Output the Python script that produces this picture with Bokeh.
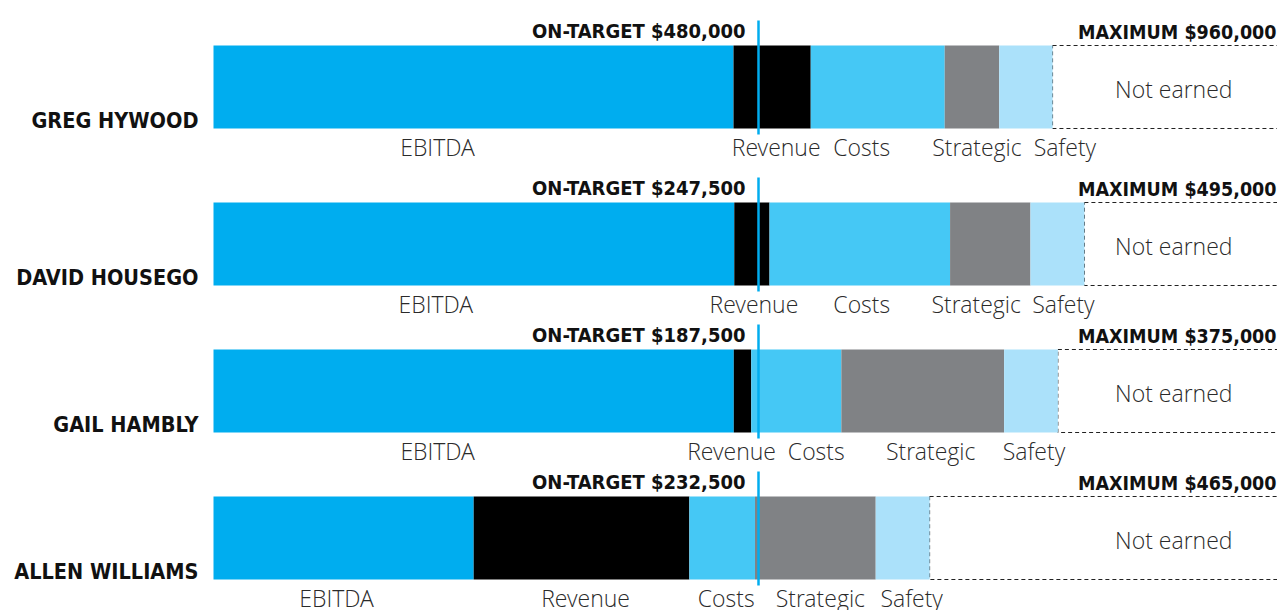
from bokeh.plotting import figure
from bokeh.models import Range1d, ColumnDataSource
from bokeh.core.properties import value
from bokeh.embed import file_html
from bokeh.resources import INLINE

# ---------------- data ----------------
names = ["GREG HYWOOD", "DAVID HOUSEGO", "GAIL HAMBLY", "ALLEN WILLIAMS"]
on_target = [480000, 247500, 187500, 232500]
maximum = [960000, 495000, 375000, 465000]
components = ["EBITDA", "Revenue", "Costs", "Strategic", "Safety"]
ebitda = [458000, 236500, 179000, 111000]
revenue = [68000, 16000, 6000, 92000]
costs = [118000, 82000, 31000, 28000]
strategic = [48000, 36500, 56000, 51500]
safety = [47000, 24500, 18500, 23000]
not_earned_label = "Not earned"

# ---------------- style / layout ----------------
colors = ["#00ADEF", "#000000", "#45C8F5", "#808285", "#ABE1FA"]
W, H = 1277, 610
ORIGIN_PX = 213          # pixel position of a bar's start inside the figure
PX_PER_MAX = 1090        # pixels for 100% of a person's maximum
row_top = [45, 202, 349, 496]
bar_h = 83
label_dx = [[-36, 4, -16, 5, 39],
            [-38, 2, 2, -14, 6],
            [-36, -11, 20, 8, 3],
            [-7, 4, 4, 5, 9]]
not_earned_pos = 0.881   # fraction of the maximum
bold_font = value("DejaVu Sans Condensed")
light_font = value("'Open Sans Light', 'Open Sans'")

p = figure(width=W, height=H, output_backend="svg", toolbar_location=None,
           x_range=Range1d(-ORIGIN_PX / PX_PER_MAX, (W - ORIGIN_PX) / PX_PER_MAX),
           y_range=Range1d(H, 0), x_axis_type=None, y_axis_type=None,
           min_border=0, min_border_left=0, min_border_right=0,
           min_border_top=0, min_border_bottom=0)
p.outline_line_color = None
p.xgrid.visible = False
p.ygrid.visible = False
p.background_fill_color = "white"
p.border_fill_color = "white"

series = [ebitda, revenue, costs, strategic, safety]

seg = dict(left=[], right=[], top=[], bottom=[], color=[])
lab = dict(x=[], y=[], text=[])
box = dict(left=[], right=[], top=[], bottom=[])
for i in range(len(names)):
    mx = maximum[i]
    cum = 0.0
    for j, s in enumerate(series):
        l = cum / mx
        cum += s[i]
        r = cum / mx
        seg["left"].append(l)
        seg["right"].append(r)
        seg["top"].append(row_top[i])
        seg["bottom"].append(row_top[i] + bar_h)
        seg["color"].append(colors[j])
        lab["x"].append((l + r) / 2 + label_dx[i][j] / PX_PER_MAX)
        lab["y"].append(row_top[i] + bar_h + 18)
        lab["text"].append(components[j])
    box["left"].append(cum / mx)
    box["right"].append(1.0)
    box["top"].append(row_top[i])
    box["bottom"].append(row_top[i] + bar_h)

# dashed "not earned" box
p.quad(left="left", right="right", top="top", bottom="bottom",
       source=ColumnDataSource(box), fill_color=None, line_color="#222222",
       line_width=1, line_dash="4 3")

# stacked segments
p.quad(left="left", right="right", top="top", bottom="bottom",
       source=ColumnDataSource(seg), fill_color="color", line_color=None)

# on-target lines
ot_x = [t / m for t, m in zip(on_target, maximum)]
p.segment(x0=ot_x, x1=ot_x, y0=[t - 25 for t in row_top],
          y1=[t + bar_h + 6 for t in row_top], line_color="#00ADEF", line_width=2.5)

# segment labels
p.text(x="x", y="y", text="text", source=ColumnDataSource(lab),
       text_font=light_font, text_font_size="23px", text_color="#2a2a2a",
       text_align="center", text_baseline="alphabetic")

# not earned labels
p.text(x=[not_earned_pos] * len(names), y=[t + bar_h / 2 + 1.5 for t in row_top],
       text=[not_earned_label] * len(names), text_font=light_font,
       text_font_size="23px", text_color="#2a2a2a", text_align="center",
       text_baseline="alphabetic")

# name labels
p.text(x=[0] * len(names), y=[t + bar_h - 8 for t in row_top], text=names,
       x_offset=-15, text_font=bold_font, text_font_style="bold",
       text_font_size="21.5px", text_color="#111111", text_align="right",
       text_baseline="alphabetic")

# on-target labels
p.text(x=ot_x, y=[t - 15 for t in row_top],
       text=["ON-TARGET ${:,.0f}".format(v) for v in on_target], x_offset=-13,
       text_font=bold_font, text_font_style="bold", text_font_size="20px",
       text_color="#111111", text_align="right", text_baseline="alphabetic")

# maximum labels
p.text(x=[1.0] * len(names), y=[t - 13 for t in row_top],
       text=["MAXIMUM ${:,.0f}".format(v) for v in maximum], x_offset=-27,
       text_font=bold_font, text_font_style="bold", text_font_size="19.5px",
       text_color="#111111", text_align="right", text_baseline="alphabetic")

open("out.html", "w").write(file_html(p, INLINE))
